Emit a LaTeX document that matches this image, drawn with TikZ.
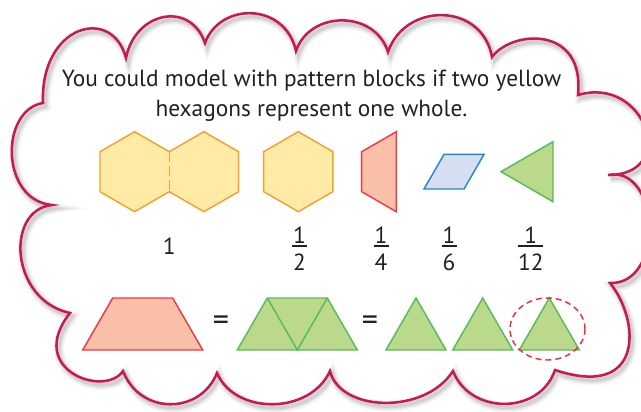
\documentclass[tikz,border=0pt]{standalone}
\usepackage{fontspec}
\setmainfont{PT Sans}
\definecolor{cloudc}{RGB}{200,25,80}
\definecolor{txtc}{RGB}{35,31,32}
\definecolor{hexfill}{RGB}{255,234,166}
\definecolor{hexline}{RGB}{245,160,50}
\definecolor{trapfill}{RGB}{249,191,169}
\definecolor{trapline}{RGB}{238,58,67}
\definecolor{rhfill}{RGB}{212,224,241}
\definecolor{rhline}{RGB}{42,134,200}
\definecolor{trifill}{RGB}{186,217,138}
\definecolor{triline}{RGB}{91,186,91}
\definecolor{ellc}{RGB}{232,50,60}
\def\cloudpath{(43,103) .. controls (40,25) and (112,5) .. (126,58)
 .. controls (135,12) and (190,0) .. (205,43)
 .. controls (220,2) and (285,2) .. (296,51)
 .. controls (310,10) and (375,10) .. (388,52)
 .. controls (405,2) and (482,2) .. (492,57)
 .. controls (512,30) and (585,25) .. (578,95)
 .. controls (645,75) and (680,175) .. (608,175)
 .. controls (660,165) and (665,285) .. (610,283)
 .. controls (640,320) and (645,400) .. (555,370)
 .. controls (540,415) and (470,415) .. (453,371)
 .. controls (425,415) and (340,412) .. (330,371)
 .. controls (310,415) and (235,415) .. (217,373)
 .. controls (200,415) and (140,415) .. (123,371)
 .. controls (105,398) and (25,370) .. (70,313)
 .. controls (10,300) and (5,210) .. (52,205)
 .. controls (0,200) and (0,110) .. (43,103) -- cycle}
\begin{document}
\begin{tikzpicture}[x=0.75pt,y=-0.75pt,
  cloudsty/.style={draw=cloudc,line width=1.9pt,line join=miter},
  hexsty/.style={fill=hexfill,draw=hexline,line width=1.1pt,line join=miter},
  trapsty/.style={fill=trapfill,draw=trapline,line width=1.1pt,line join=miter},
  rhsty/.style={fill=rhfill,draw=rhline,line width=1.1pt,line join=miter},
  tristy/.style={fill=trifill,draw=triline,line width=1.1pt,line join=miter},
  txt/.style={text=txtc,font=\fontsize{17.5}{20}\selectfont,inner sep=0pt,anchor=base},
  num/.style={text=txtc,font=\fontsize{17.5}{20}\selectfont,inner sep=0pt,anchor=base},
  fracbar/.style={draw=txtc,line width=1pt},
  eqsty/.style={text=txtc,font=\fontsize{24}{26}\selectfont,inner sep=0pt}]
\useasboundingbox (0,0) rectangle (641,411);
\clip (0,0) rectangle (641,411);
% cloud shadow and outline
\foreach \w/\o in {8/0.03,6/0.04,4/0.05,2.5/0.07} {
  \draw[line width=\w pt,black,opacity=\o,shift={(2.5,3.5)}] \cloudpath;
}
\draw[cloudsty] \cloudpath;
% text
\node[txt] (line1) at (311.5,86) {You could model with pattern blocks if two yellow};
\node[txt] (line2) at (311.5,116) {hexagons represent one whole.};
% two hexagons
\fill[hexfill] (100,151.7) -- (134.6,131.7) -- (169.3,151.7) -- (203.9,131.7) -- (238.6,151.7)
  -- (238.6,191.7) -- (203.9,211.7) -- (169.3,191.7) -- (134.6,211.7) -- (100,191.7) -- cycle;
\draw[hexline,line width=1.1pt,line join=miter] (100,151.7) -- (134.6,131.7) -- (169.3,151.7) -- (203.9,131.7) -- (238.6,151.7)
  -- (238.6,191.7) -- (203.9,211.7) -- (169.3,191.7) -- (134.6,211.7) -- (100,191.7) -- cycle;
\draw[hexline,line width=1.1pt,dash pattern=on 8pt off 2.5pt] (169.3,151.7) -- (169.3,191.7);
% single hexagon
\draw[hexsty] (298.3,131.7) -- (332.9,151.7) -- (332.9,191.7) -- (298.3,211.7) -- (263.7,191.7) -- (263.7,151.7) -- cycle;
% half hexagon
\draw[trapsty] (361.7,151.7) -- (396.3,131.7) -- (396.3,211.7) -- (361.7,191.7) -- cycle;
% rhombus
\draw[rhsty] (424,189) -- (444,154.4) -- (484,154.4) -- (464,189) -- cycle;
% triangle
\draw[tristy] (501,171.7) -- (553,141.7) -- (553,201.7) -- cycle;
% labels
\node[num] (one) at (169.3,254) {1};
\node[num] (n2) at (299.5,243) {1};
\node[num] (d2) at (299.5,270) {2};
\draw[fracbar] (292,246) -- (307,246);
\node[num] (n4) at (381,243) {1};
\node[num] (d4) at (381,270) {4};
\draw[fracbar] (373.5,246) -- (388.5,246);
\node[num] (n6) at (449,243) {1};
\node[num] (d6) at (449,270) {6};
\draw[fracbar] (441.5,246) -- (456.5,246);
\node[num] (n12) at (530.8,243) {1};
\node[num] (d12) at (530.8,270) {12};
\draw[fracbar] (518.3,246) -- (543.3,246);
% bottom row
\draw[trapsty] (82.7,350) -- (112.7,298) -- (172.7,298) -- (202.7,350) -- cycle;
\node[eqsty] (eq1) at (221,323) {=};
\draw[tristy] (237.3,350) -- (267.3,298) -- (327.3,298) -- (357.3,350) -- cycle;
\draw[triline,line width=1.1pt] (267.3,298) -- (297.3,350) -- (327.3,298);
\node[eqsty] (eq2) at (370,323) {=};
\draw[tristy] (386,350) -- (416,298) -- (446,350) -- cycle;
\draw[tristy] (452.7,350) -- (482.7,298) -- (512.7,350) -- cycle;
\draw[tristy] (519.3,350) -- (549.3,298) -- (579.3,350) -- cycle;
\draw[ellc,line width=1.1pt,dash pattern=on 4.5pt off 3pt] (547.5,329) ellipse [x radius=37.5, y radius=31];
\end{tikzpicture}
\end{document}
